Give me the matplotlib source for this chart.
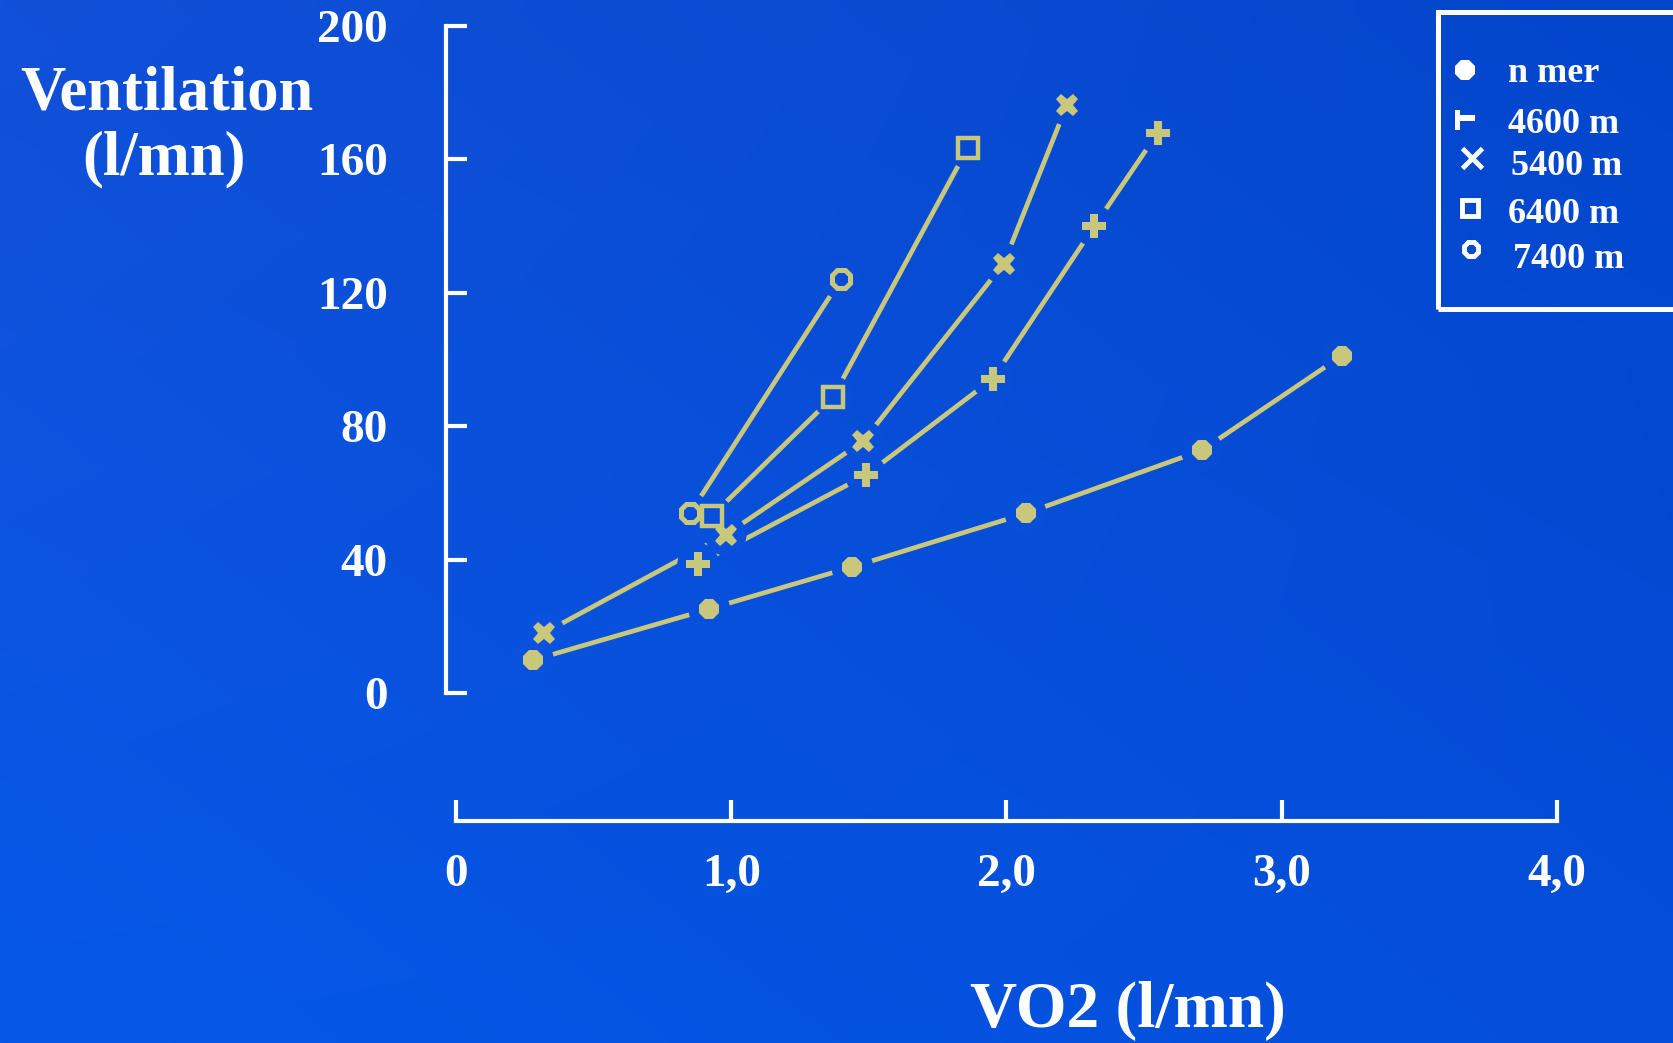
import numpy as np
import matplotlib
matplotlib.use("Agg")
import matplotlib.pyplot as plt
from matplotlib.patches import Rectangle
from matplotlib.lines import Line2D
from matplotlib.path import Path

# ---- data: ventilation (l/mn) against VO2 (l/mn) at several altitudes ----
vo2_sea = [0.28, 0.92, 1.44, 2.07, 2.71, 3.22]
ve_sea = [10.0, 25.3, 37.9, 53.9, 72.8, 101.2]

vo2_4600 = [0.88, 1.49, 1.95, 2.32, 2.55]
ve_4600 = [38.8, 65.4, 94.2, 140.0, 167.9]

vo2_5400 = [0.32, 0.98, 1.48, 1.99, 2.22]
ve_5400 = [18.1, 47.5, 75.6, 128.7, 176.3]

vo2_6400 = [0.93, 1.37, 1.86]
ve_6400 = [53.2, 88.8, 163.4]

vo2_7400 = [0.85, 1.40]
ve_7400 = [53.9, 124.2]

legend_labels = ["n mer", "4600 m", "5400 m", "6400 m", "7400 m"]

xtick_vals = [0, 1, 2, 3, 4]
xtick_labels = ["0", "1,0", "2,0", "3,0", "4,0"]
ytick_vals = [0, 40, 80, 120, 160, 200]
ytick_labels = ["0", "40", "80", "120", "160", "200"]

# ---- style ----
W_PX, H_PX = 1674, 1043
KHAKI = "#C8C77C"
SERIF = ["Liberation Serif", "DejaVu Serif"]

# background gradient corner colours (RGB 0-255): top-left, top-right, bottom-left, bottom-right
C_TL = np.array([0x12, 0x50, 0xD8]) / 255
C_TR = np.array([0x02, 0x46, 0xCC]) / 255
C_BL = np.array([0x06, 0x58, 0xE8]) / 255
C_BR = np.array([0x04, 0x4E, 0xDA]) / 255


def bg_color(u, v):
    """Background colour at figure fraction (u from left, v from bottom)."""
    top = C_TL * (1 - u) + C_TR * u
    bot = C_BL * (1 - u) + C_BR * u
    return np.clip(bot * (1 - v) + top * v, 0, 1)


fig = plt.figure(figsize=(W_PX / 100, H_PX / 100), dpi=100)

# gradient backdrop
bg = fig.add_axes([0, 0, 1, 1], zorder=-10)
uu, vv = np.meshgrid(np.linspace(0, 1, 200), np.linspace(1, 0, 130))
img = bg_color(uu[..., None], vv[..., None])
bg.imshow(img, extent=[0, 1, 0, 1], aspect="auto", interpolation="bilinear")
bg.set_axis_off()

# main axes, placed in pixel terms
left_px, right_px, top_px, bottom_px = 446, 1600, 18, 821
ax = fig.add_axes([left_px / W_PX, 1 - bottom_px / H_PX,
                   (right_px - left_px) / W_PX, (bottom_px - top_px) / H_PX])
ax.set_facecolor("none")
ax.set_xlim(-0.0363, 4.157)
ax.set_ylim(-38.2, 202.3)

for side in ("top", "right"):
    ax.spines[side].set_visible(False)
for side in ("left", "bottom"):
    ax.spines[side].set_color("white")
    ax.spines[side].set_linewidth(3)
    ax.spines[side].set_capstyle("projecting")
ax.spines["left"].set_bounds(0, 200)
ax.spines["bottom"].set_bounds(0, 4)

ax.set_xticks(xtick_vals)
ax.set_xticklabels(xtick_labels, fontsize=34, fontweight="bold", family=SERIF, color="white")
ax.set_yticks(ytick_vals)
ax.set_yticklabels(ytick_labels, fontsize=34, fontweight="bold", family=SERIF, color="white")
ax.tick_params(axis="x", direction="in", length=15, width=3, colors="white", pad=24)
ax.tick_params(axis="y", direction="in", length=15, width=3, colors="white", pad=42)

series = [
    (vo2_sea, ve_sea, dict(marker="8", ms=16, mfc=KHAKI, mec=KHAKI, mew=0)),
    (vo2_4600, ve_4600, dict(marker="P", ms=17, mfc=KHAKI, mec=KHAKI, mew=0)),
    (vo2_5400, ve_5400, dict(marker="X", ms=16, mfc=KHAKI, mec=KHAKI, mew=0)),
    (vo2_6400, ve_6400, dict(marker="s", ms=14, mfc="none", mec=KHAKI, mew=3.2)),
    (vo2_7400, ve_7400, dict(marker="8", ms=14, mfc="none", mec=KHAKI, mew=3.6)),
]

# curves
for xs, ys, _ in series:
    ax.plot(xs, ys, color=KHAKI, lw=3.4, solid_capstyle="butt", zorder=2)

# small clearing around each point so the curves stop short of the symbols
for xs, ys, _ in series:
    disp = ax.transData.transform(np.column_stack([xs, ys]))
    fr = fig.transFigure.inverted().transform(disp)
    cols = [bg_color(u, v) for u, v in fr]
    ax.scatter(xs, ys, s=900, c=cols, linewidths=0, zorder=3)

# symbols
for xs, ys, st in series:
    ax.plot(xs, ys, linestyle="none", zorder=4, **st)

# axis titles
fig.text(1128 / W_PX, 1 - 1027 / H_PX, "VO2 (l/mn)", ha="center", va="baseline",
         fontsize=47, fontweight="bold", family=SERIF, color="white")
fig.text(167 / W_PX, 1 - 110 / H_PX, "Ventilation", ha="center", va="baseline",
         fontsize=45, fontweight="bold", family=SERIF, color="white")
fig.text(164.5 / W_PX, 1 - 174 / H_PX, "(l/mn)", ha="center", va="baseline",
         fontsize=45, fontweight="bold", family=SERIF, color="white")

# legend box
box_l, box_t, box_b = 1438, 12.5, 308.5
fig.add_artist(Rectangle((box_l / W_PX, 1 - box_b / H_PX), (W_PX + 40 - box_l) / W_PX,
                         (box_b - box_t) / H_PX, transform=fig.transFigure,
                         fill=False, edgecolor="white", linewidth=3.6, clip_on=False))

tee = Path([(-1, -1), (-0.5, -1), (-0.5, -0.05), (1, -0.05), (1, 0.52),
            (-0.5, 0.52), (-0.5, 1), (-1, 1), (-1, -1)],
           [Path.MOVETO] + [Path.LINETO] * 7 + [Path.CLOSEPOLY])

legend_markers = [
    dict(marker="8", ms=15, mfc="white", mec="white", mew=0),
    dict(marker=tee, ms=15, mfc="white", mec="white", mew=0),
    dict(marker="x", ms=15, mec="white", mew=3.5),
    dict(marker="s", ms=11, mfc="none", mec="white", mew=3.5),
    dict(marker="8", ms=11, mfc="none", mec="white", mew=3.5),
]
marker_xy = [(1465, 70), (1465, 120), (1472, 158), (1470, 208), (1471, 249)]
text_xy = [(1508, 82), (1508, 133), (1511, 175), (1508, 223), (1513, 268)]

for st, (mx, my), (tx, ty), lab in zip(legend_markers, marker_xy, text_xy, legend_labels):
    fig.add_artist(Line2D([mx / W_PX], [1 - my / H_PX], transform=fig.transFigure,
                          linestyle="none", **st))
    fig.text(tx / W_PX, 1 - ty / H_PX, lab, ha="left", va="baseline",
             fontsize=26, fontweight="bold", family=SERIF, color="white")

fig.savefig("out.png", dpi=100)
